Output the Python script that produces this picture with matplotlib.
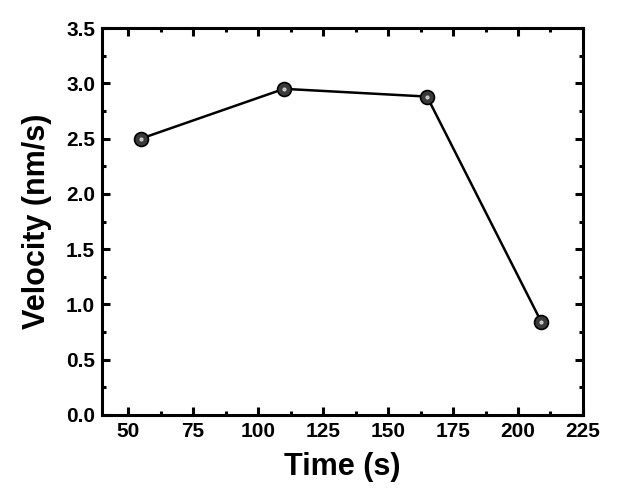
import matplotlib
matplotlib.use("Agg")
import matplotlib.pyplot as plt
from matplotlib.ticker import MultipleLocator

# values
time_s = [55, 110, 165, 209]
velocity = [2.50, 2.95, 2.88, 0.84]

plt.rcParams['font.family'] = ['Liberation Sans', 'DejaVu Sans']
plt.rcParams['font.weight'] = 'bold'

fig = plt.figure(figsize=(6.21, 5.04), dpi=100)
ax = fig.add_axes([0.1643, 0.1766, 0.7745, 0.7678])

ax.plot(time_s, velocity, color='black', linewidth=1.8,
        marker='o', markersize=10, markerfacecolor='#3a3a3a',
        markeredgecolor='black', markeredgewidth=1.2)
# small highlight on the balls
ax.plot(time_s, velocity, linestyle='none', marker='o', markersize=3,
        markerfacecolor='#c8c8c8', markeredgecolor='none')

ax.set_xlim(40, 225)
ax.set_ylim(0, 3.5)
ax.xaxis.set_major_locator(MultipleLocator(25))
ax.xaxis.set_minor_locator(MultipleLocator(12.5))
ax.yaxis.set_major_locator(MultipleLocator(0.5))
ax.yaxis.set_minor_locator(MultipleLocator(0.25))
ax.set_xticks([50, 75, 100, 125, 150, 175, 200, 225])
ax.set_xticklabels(['50', '75', '100', '125', '150', '175', '200', '225'])
ax.set_yticks([0.0, 0.5, 1.0, 1.5, 2.0, 2.5, 3.0, 3.5])
ax.set_yticklabels(['0.0', '0.5', '1.0', '1.5', '2.0', '2.5', '3.0', '3.5'])

for s in ax.spines.values():
    s.set_linewidth(2.2)

ax.tick_params(which='both', direction='in', top=True, right=True, width=2.2)
ax.tick_params(which='major', length=6, labelsize=15, pad=5)
ax.tick_params(which='minor', length=3)

ax.set_xlabel('Time (s)', fontsize=22, fontweight='bold', labelpad=8)
ax.set_ylabel('Velocity (nm/s)', fontsize=22, fontweight='bold', labelpad=10)

fig.savefig('out.png', dpi=100)
